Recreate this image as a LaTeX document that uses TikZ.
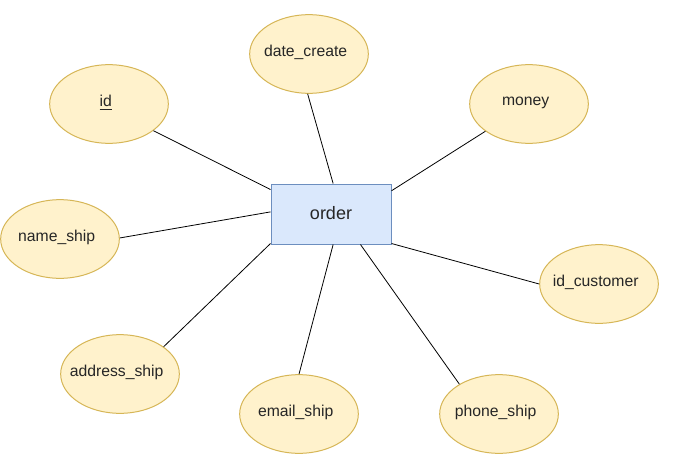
\documentclass[tikz,border=0pt]{standalone}
\usepackage{fontspec}
\setmainfont{Liberation Sans}
\usetikzlibrary{shapes.geometric}
\definecolor{attrfill}{HTML}{FFF2CC}
\definecolor{attrdraw}{HTML}{D6B656}
\definecolor{entfill}{HTML}{DAE8FC}
\definecolor{entdraw}{HTML}{6C8EBF}
\tikzset{
  attr/.style={ellipse, draw=attrdraw, fill=attrfill, line width=0.75pt,
    minimum width=89pt, minimum height=59pt, inner sep=0pt},
  attrtext/.style={font=\fontsize{11.8pt}{14pt}\selectfont, text=black!85,
    inner sep=0pt, xshift=-2.5pt, yshift=1pt},
  entity/.style={rectangle, draw=entdraw, fill=entfill, line width=0.75pt,
    minimum width=90pt, minimum height=45pt, inner sep=0pt,
    font=\fontsize{13.5pt}{16pt}\selectfont, text=black!85},
  link/.style={draw=black, line width=0.6pt}
}
\begin{document}
\begin{tikzpicture}[x=0.75pt, y=-0.75pt]
\useasboundingbox (0,0) rectangle (673,467);
\node[entity] (order) at (331,214) {\raisebox{2pt}{order}};
\node[attr, label={[attrtext]center:date\_create}] (date) at (309,54) {};
\node[attr, label={[attrtext]center:\underline{id}}] (id) at (109,104) {};
\node[attr, label={[attrtext]center:money}] (money) at (529,104) {};
\node[attr, label={[attrtext]center:name\_ship}] (name) at (60,239) {};
\node[attr, label={[attrtext]center:id\_customer}] (idc) at (599,284) {};
\node[attr, label={[attrtext]center:address\_ship}] (addr) at (120,374) {};
\node[attr, label={[attrtext]center:email\_ship}] (email) at (299,414) {};
\node[attr, label={[attrtext]center:phone\_ship}] (phone) at (499,414) {};
\draw[link] (id.-31.5) -- (order.158.2);
\draw[link] (date.-92) -- (order.86.2);
\draw[link] (money.212) -- (order.21);
\draw[link] (name.1) -- (order.178.1);
\draw[link] (idc.180) -- (order.-26.5);
\draw[link] (addr.32) -- (order.206);
\draw[link] (email.90) -- (order.-86.2);
\draw[link] (phone.143) -- (order.-46);
\end{tikzpicture}
\end{document}
